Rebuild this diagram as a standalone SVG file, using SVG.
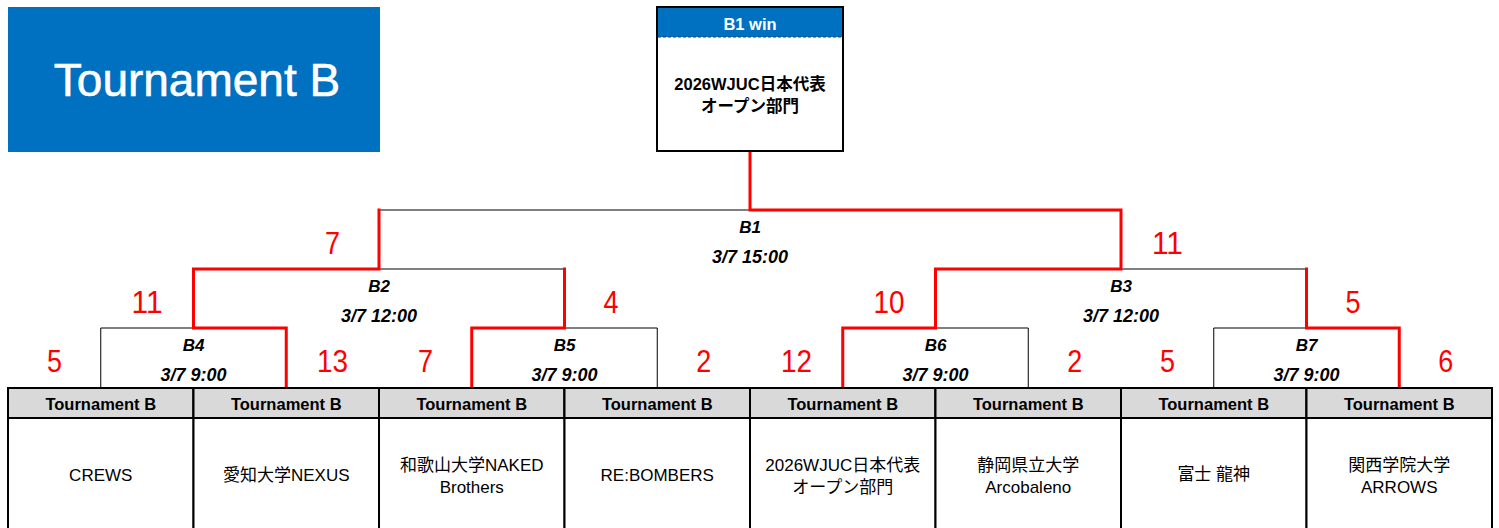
<svg xmlns="http://www.w3.org/2000/svg" width="1499" height="528" viewBox="0 0 1499 528">
<style>
.bk{stroke:#000;stroke-width:1;fill:none}
.rd{stroke:#ff0000;stroke-width:3;fill:none;stroke-linecap:square}
.hd{fill:#d9d9d9;stroke:#000;stroke-width:2}
.bd{fill:#fff;stroke:#000;stroke-width:2}
.dot{stroke:#000;stroke-width:1.6;stroke-dasharray:2 2}
.ht{font-family:"Liberation Sans","Noto Sans CJK JP",sans-serif;font-weight:bold;font-size:16.5px;text-anchor:middle;fill:#000}
.tn{font-family:"Liberation Sans","Noto Sans CJK JP",sans-serif;font-size:17px;text-anchor:middle;fill:#000}
.ml{font-family:"Liberation Sans",sans-serif;font-weight:bold;font-style:italic;font-size:17px;text-anchor:middle;fill:#000}
.md{font-family:"Liberation Sans",sans-serif;font-weight:bold;font-style:italic;font-size:18px;text-anchor:middle;fill:#000}
.sc{font-family:"Liberation Sans",sans-serif;font-size:32px;text-anchor:middle;fill:#ff0000}
</style>
<g id="title">
<rect x="8" y="7" width="372" height="145" fill="#0070c0"/>
<text x="197" y="95.5" font-family="Liberation Sans, sans-serif" font-size="46" fill="#fff" text-anchor="middle" stroke="#fff" stroke-width="0.6">Tournament B</text>
</g>
<g id="connectors">
<polyline class="bk" points="379,210 750,210"/>
<polyline class="bk" points="379,269 564.5,269"/>
<polyline class="bk" points="1121,269 1306.5,269"/>
<polyline class="bk" points="100.75,388 100.75,328 193.5,328"/>
<polyline class="bk" points="564.5,328 657.25,328 657.25,388"/>
<polyline class="bk" points="935.5,328 1028.25,328 1028.25,388"/>
<polyline class="bk" points="1213.75,388 1213.75,328 1306.5,328"/>
<polyline class="rd" points="286.25,388 286.25,328 193.5,328 193.5,269 379,269 379,210"/>
<polyline class="rd" points="471.75,388 471.75,328 564.5,328 564.5,269"/>
<polyline class="rd" points="842.75,388 842.75,328 935.5,328 935.5,269 1121,269 1121,210 750,210 750,152"/>
<polyline class="rd" points="1399.25,388 1399.25,328 1306.5,328 1306.5,269"/>
</g>
<g id="winner">
<rect x="657" y="7" width="186" height="144" fill="#fff" stroke="#000" stroke-width="2"/>
<rect x="658" y="8" width="184" height="29" fill="#0070c0"/>
<line x1="658" y1="37" x2="842" y2="37" stroke="#1f3a5a" stroke-width="1" stroke-dasharray="3 2"/>
<text x="750" y="29.5" font-family="Liberation Sans, sans-serif" font-weight="bold" font-size="16.5" fill="#fff" text-anchor="middle">B1 win</text>
<text x="750" y="90" class="ht" style="font-size:16.5px">2026WJUC日本代表</text>
<text x="750" y="112" class="ht" style="font-size:16.5px">オープン部門</text>
</g>
<g id="match-B1"><text class="ml" x="750" y="233">B1</text><text class="md" x="750" y="262.5">3/7 15:00</text></g>
<g id="match-B2"><text class="ml" x="379" y="292">B2</text><text class="md" x="379" y="321.5">3/7 12:00</text></g>
<g id="match-B3"><text class="ml" x="1121" y="292">B3</text><text class="md" x="1121" y="321.5">3/7 12:00</text></g>
<g id="match-B4"><text class="ml" x="193.5" y="351">B4</text><text class="md" x="193.5" y="380.5">3/7 9:00</text></g>
<g id="match-B5"><text class="ml" x="564.5" y="351">B5</text><text class="md" x="564.5" y="380.5">3/7 9:00</text></g>
<g id="match-B6"><text class="ml" x="935.5" y="351">B6</text><text class="md" x="935.5" y="380.5">3/7 9:00</text></g>
<g id="match-B7"><text class="ml" x="1306.5" y="351">B7</text><text class="md" x="1306.5" y="380.5">3/7 9:00</text></g>
<g id="scores">
<text class="sc" x="54.4" y="371.5" textLength="15" lengthAdjust="spacingAndGlyphs">5</text>
<text class="sc" x="332.6" y="371.5" textLength="31" lengthAdjust="spacingAndGlyphs">13</text>
<text class="sc" x="425.4" y="371.5" textLength="15" lengthAdjust="spacingAndGlyphs">7</text>
<text class="sc" x="703.7" y="371.5" textLength="15" lengthAdjust="spacingAndGlyphs">2</text>
<text class="sc" x="796.4" y="371.5" textLength="31" lengthAdjust="spacingAndGlyphs">12</text>
<text class="sc" x="1074.7" y="371.5" textLength="15" lengthAdjust="spacingAndGlyphs">2</text>
<text class="sc" x="1167.4" y="371.5" textLength="15" lengthAdjust="spacingAndGlyphs">5</text>
<text class="sc" x="1445.7" y="371.5" textLength="15" lengthAdjust="spacingAndGlyphs">6</text>
<text class="sc" x="147.1" y="312.5" textLength="31" lengthAdjust="spacingAndGlyphs">11</text>
<text class="sc" x="610.9" y="312.5" textLength="15" lengthAdjust="spacingAndGlyphs">4</text>
<text class="sc" x="889.1" y="312.5" textLength="31" lengthAdjust="spacingAndGlyphs">10</text>
<text class="sc" x="1352.9" y="312.5" textLength="15" lengthAdjust="spacingAndGlyphs">5</text>
<text class="sc" x="332.6" y="253.5" textLength="15" lengthAdjust="spacingAndGlyphs">7</text>
<text class="sc" x="1167.4" y="253.5" textLength="31" lengthAdjust="spacingAndGlyphs">11</text>
</g>
<g id="team-1"><rect class="bd" x="8" y="388" width="185.5" height="145"/><rect class="hd" x="8" y="388" width="185.5" height="30"/><line class="dot" x1="8" y1="418" x2="193.5" y2="418"/><text class="ht" x="100.75" y="410">Tournament B</text><text class="tn" x="100.75" y="481">CREWS</text></g>
<g id="team-2"><rect class="bd" x="193.5" y="388" width="185.5" height="145"/><rect class="hd" x="193.5" y="388" width="185.5" height="30"/><line class="dot" x1="193.5" y1="418" x2="379" y2="418"/><text class="ht" x="286.25" y="410">Tournament B</text><text class="tn" x="286.25" y="481">愛知大学NEXUS</text></g>
<g id="team-3"><rect class="bd" x="379" y="388" width="185.5" height="145"/><rect class="hd" x="379" y="388" width="185.5" height="30"/><line class="dot" x1="379" y1="418" x2="564.5" y2="418"/><text class="ht" x="471.75" y="410">Tournament B</text><text class="tn" x="471.75" y="471">和歌山大学NAKED</text><text class="tn" x="471.75" y="493">Brothers</text></g>
<g id="team-4"><rect class="bd" x="564.5" y="388" width="185.5" height="145"/><rect class="hd" x="564.5" y="388" width="185.5" height="30"/><line class="dot" x1="564.5" y1="418" x2="750" y2="418"/><text class="ht" x="657.25" y="410">Tournament B</text><text class="tn" x="657.25" y="481">RE:BOMBERS</text></g>
<g id="team-5"><rect class="bd" x="750" y="388" width="185.5" height="145"/><rect class="hd" x="750" y="388" width="185.5" height="30"/><line class="dot" x1="750" y1="418" x2="935.5" y2="418"/><text class="ht" x="842.75" y="410">Tournament B</text><text class="tn" x="842.75" y="471">2026WJUC日本代表</text><text class="tn" x="842.75" y="493">オープン部門</text></g>
<g id="team-6"><rect class="bd" x="935.5" y="388" width="185.5" height="145"/><rect class="hd" x="935.5" y="388" width="185.5" height="30"/><line class="dot" x1="935.5" y1="418" x2="1121" y2="418"/><text class="ht" x="1028.25" y="410">Tournament B</text><text class="tn" x="1028.25" y="471">静岡県立大学</text><text class="tn" x="1028.25" y="493">Arcobaleno</text></g>
<g id="team-7"><rect class="bd" x="1121" y="388" width="185.5" height="145"/><rect class="hd" x="1121" y="388" width="185.5" height="30"/><line class="dot" x1="1121" y1="418" x2="1306.5" y2="418"/><text class="ht" x="1213.75" y="410">Tournament B</text><text class="tn" x="1213.75" y="480">富士 龍神</text></g>
<g id="team-8"><rect class="bd" x="1306.5" y="388" width="185.5" height="145"/><rect class="hd" x="1306.5" y="388" width="185.5" height="30"/><line class="dot" x1="1306.5" y1="418" x2="1492" y2="418"/><text class="ht" x="1399.25" y="410">Tournament B</text><text class="tn" x="1399.25" y="471">関西学院大学</text><text class="tn" x="1399.25" y="493">ARROWS</text></g>
</svg>
